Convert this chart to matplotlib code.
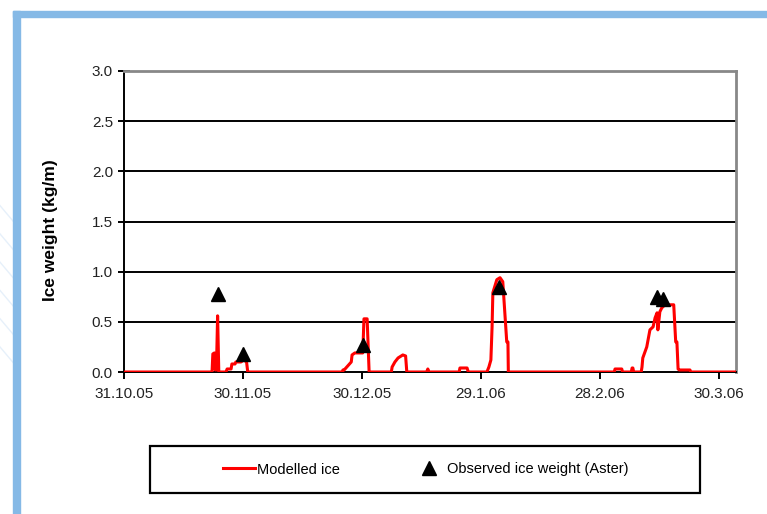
import datetime as dt
import numpy as np
import matplotlib
matplotlib.use("Agg")
import matplotlib.pyplot as plt
from matplotlib.patches import Rectangle
from matplotlib.lines import Line2D

plt.rcParams['font.family'] = ['Liberation Sans', 'DejaVu Sans']

start = dt.datetime(2005, 10, 31)

# modelled ice: days after 31.10.05 and ice weight (kg/m)
model_days = [0, 22.2, 22.4, 22.8, 23.0, 23.3, 23.6, 23.9, 25.7, 26.0, 27.0, 27.2,
              28.0, 28.2, 29.5, 30.2, 30.9, 31.2,
              55.0, 55.2, 55.5, 57.3, 57.5, 58.2, 60.2, 60.5, 61.3, 61.8,
              67.4, 67.6, 68.3, 69.1, 70.3, 71.0, 71.3,
              76.3, 76.6, 76.9,
              84.5, 84.7, 86.5, 86.8,
              91.5, 92.0, 92.5, 92.8, 93.0, 94.0, 94.8, 95.5, 96.5, 96.8, 96.9,
              123.6, 123.8, 125.5, 125.7, 127.9, 128.1, 128.3, 128.5,
              130.4, 130.6, 130.8, 131.8, 132.6, 133.4, 133.9, 134.4, 134.6,
              135.1, 135.6, 136.4, 138.6, 139.1, 139.4, 139.7, 140.0, 142.7,
              142.9, 154]
model_ice = [0, 0, 0.18, 0.19, 0.02, 0.02, 0.56, 0, 0, 0.03, 0.03, 0.08,
             0.08, 0.10, 0.10, 0.12, 0.10, 0,
             0, 0.02, 0.02, 0.10, 0.17, 0.19, 0.19, 0.53, 0.53, 0,
             0, 0.05, 0.10, 0.14, 0.17, 0.16, 0,
             0, 0.03, 0,
             0, 0.04, 0.04, 0,
             0, 0.05, 0.12, 0.45, 0.79, 0.92, 0.94, 0.90, 0.30, 0.30, 0,
             0, 0.03, 0.03, 0, 0, 0.04, 0.04, 0,
             0, 0.05, 0.14, 0.25, 0.42, 0.45, 0.54, 0.59, 0.42,
             0.60, 0.64, 0.67, 0.67, 0.30, 0.30, 0.03, 0.02, 0.02,
             0, 0]

# observed ice weight (Aster)
obs_days = [23.7, 30.0, 60.2, 94.5, 134.4, 135.9]
obs_ice = [0.78, 0.18, 0.27, 0.85, 0.75, 0.73]

tick_days = [0, 30, 60, 90, 120, 150]
tick_labels = ["31.10.05", "30.11.05", "30.12.05", "29.1.06", "28.2.06", "30.3.06"]

model_t = [start + dt.timedelta(days=d) for d in model_days]
obs_t = [start + dt.timedelta(days=d) for d in obs_days]
tick_t = [start + dt.timedelta(days=d) for d in tick_days]

fig = plt.figure(figsize=(7.67, 5.14), dpi=100)

# blue slide frame
blue = "#85b9e6"
fig.patches.append(Rectangle((13 / 767, 0), 7 / 767, 1 - 11 / 514,
                             transform=fig.transFigure, color=blue, zorder=0))
fig.patches.append(Rectangle((13 / 767, 1 - 17 / 514), 1, 6 / 514,
                             transform=fig.transFigure, color=blue, zorder=0))
# faint background streaks
for k in range(6):
    y0 = 0.60 - k * 0.055
    fig.lines.append(Line2D([0, 13 / 767], [y0, y0 - 0.03], transform=fig.transFigure,
                            color="#e6f0fa", lw=1, zorder=0))

ax = fig.add_axes([124 / 767, 1 - 372 / 514, 612 / 767, 301 / 514])

ax.plot(model_t, model_ice, color="#ff0000", lw=2.2, zorder=3,
        label="Modelled ice", solid_joinstyle="round")
ax.plot(obs_t, obs_ice, linestyle="none", marker="^", color="black",
        markersize=10, zorder=4, label="Observed ice weight (Aster)")

ax.set_xlim(start, start + dt.timedelta(days=154.3))
ax.set_ylim(0, 3.0)
ax.set_yticks(np.arange(0, 3.01, 0.5))
ax.set_yticklabels([f"{v:.1f}" for v in np.arange(0, 3.01, 0.5)])
ax.set_xticks(tick_t)
ax.set_xticklabels(tick_labels)

for v in np.arange(0.5, 2.6, 0.5):
    ax.axhline(v, color="black", lw=1.4, zorder=1)

ax.spines["top"].set_color("#888888")
ax.spines["right"].set_color("#888888")
ax.spines["top"].set_linewidth(2)
ax.spines["right"].set_linewidth(2)
ax.spines["left"].set_linewidth(1.4)
ax.spines["bottom"].set_linewidth(1.4)

ax.tick_params(axis="y", direction="inout", length=8, width=1.4, labelsize=11,
               pad=4, labelcolor="#222222")
ax.tick_params(axis="x", direction="out", length=5, width=1.4, labelsize=11,
               pad=6, labelcolor="#222222")

ax.set_ylabel("Ice weight (kg/m)", fontsize=12.5, fontweight="bold")
ax.yaxis.set_label_coords(-0.108, 0.47)

# legend box
fig.patches.append(Rectangle((150 / 767, 1 - 493 / 514), 550 / 767, 47 / 514,
                             transform=fig.transFigure, fill=False,
                             edgecolor="black", lw=1.6, zorder=5))
leg = fig.legend(loc="center", bbox_to_anchor=(425.5 / 767, 1 - 469.5 / 514), ncol=2,
                 frameon=False, fontsize=10.5, columnspacing=5.0,
                 handlelength=2.2, handletextpad=0.15, borderpad=0)

fig.savefig("out.png", dpi=100)
